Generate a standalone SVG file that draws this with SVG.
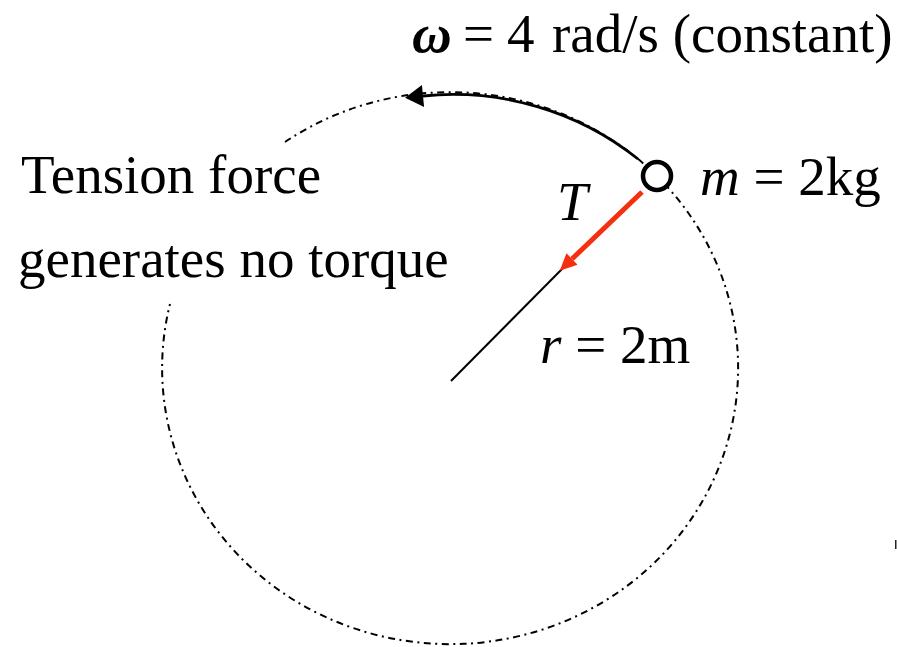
<svg xmlns="http://www.w3.org/2000/svg" width="897" height="647" viewBox="0 0 897 647">
  <style>
    .lbl { font-family: "Liberation Serif", "Times New Roman", serif; font-size: 55px; fill: #000; }
    .it { font-style: italic; }
    .orbit { fill: none; stroke: #000; stroke-width: 2; stroke-dasharray: 7 4.5 2 4.5; }
  </style>
  <defs>
    <marker id="blackHead" markerUnits="userSpaceOnUse" markerWidth="30" markerHeight="30" refX="0" refY="0" orient="auto" overflow="visible" viewBox="-15 -15 30 30">
      <path d="M0,-11 L18,0 L0,11 z" fill="#000"/>
    </marker>
    <marker id="redHead" markerUnits="userSpaceOnUse" markerWidth="30" markerHeight="30" refX="0" refY="0" orient="auto" overflow="visible" viewBox="-15 -15 30 30">
      <path d="M0,-8 L17,0 L0,8 z" fill="#f5300f"/>
    </marker>
  </defs>
  <rect width="897" height="647" fill="#fff"/>

  <g id="orbit">
    <path class="orbit" d="M 285 142 A 288 276 0 1 1 170 304"/>
  </g>

  <g id="connectors">
    <line id="radius" x1="563" y1="268" x2="451" y2="381" stroke="#000" stroke-width="2"/>
    <path id="omega-arrow" d="M 638 159 A 288 276 0 0 0 423 96" fill="none" stroke="#000" stroke-width="2.8" marker-end="url(#blackHead)"/>
    <line id="tension" x1="642" y1="192" x2="572" y2="259" stroke="#f5300f" stroke-width="5" marker-end="url(#redHead)"/>
  </g>

  <g id="mass">
    <circle cx="657" cy="176" r="14" fill="#fff" stroke="#000" stroke-width="4.5"/>
  </g>

  <g id="labels">
    <text class="lbl" y="52"><tspan x="412" font-style="italic" font-weight="bold">ω</tspan><tspan x="463">=</tspan><tspan x="507">4</tspan><tspan x="552">rad/s (constant)</tspan></text>
    <text class="lbl" x="21" y="193">Tension force</text>
    <text class="lbl" x="18" y="277">generates no torque</text>
    <text class="lbl it" x="557" y="220">T</text>
    <text class="lbl" x="700" y="195"><tspan class="it">m</tspan> = 2kg</text>
    <text class="lbl" x="540" y="363"><tspan class="it">r</tspan> = 2m</text>
  </g>

  <rect x="895" y="540" width="1.5" height="9" fill="#222"/>
</svg>
